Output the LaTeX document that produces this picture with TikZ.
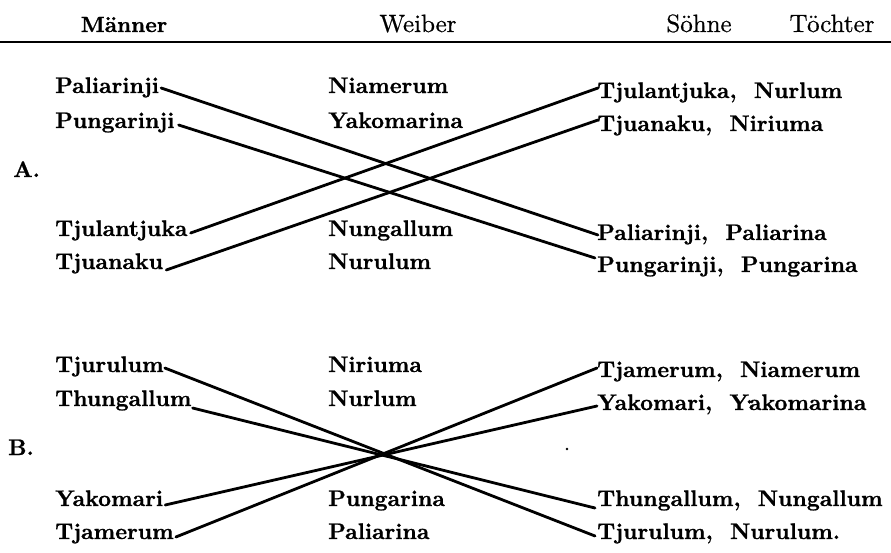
\documentclass[tikz,border=0pt]{standalone}
\usepackage{fontspec}
\newfontfamily\heavyfont{lmroman10-bold.otf}[FakeBold=0.9]
\newfontfamily\hdrfont{lmroman10-regular.otf}[FakeBold=0.6]
\begin{document}
\begin{tikzpicture}[x=1pt,y=-1pt,
  lbl/.style={font=\heavyfont\fontsize{22.5}{27}\selectfont, inner sep=0pt, anchor=base west},
  hdr/.style={font=\hdrfont\fontsize{25}{30}\selectfont, inner sep=0pt, anchor=base},
  sect/.style={font=\heavyfont\fontsize{22.5}{27}\selectfont, inner sep=0pt, anchor=base west},
  link/.style={line width=2.8pt, line cap=round, line join=round}]
\useasboundingbox (0,0) rectangle (891,553);
% header
\node[hdr, font=\heavyfont\fontsize{22}{26}\selectfont] (hM) at (124,32) {Männer};
\node[hdr] (hW) at (418,32) {Weiber};
\node[hdr] (hS) at (699,32) {Söhne};
\node[hdr] (hT) at (832,32) {Töchter};
\draw[line width=1.8pt] (0,42) -- (891,42);
% section A
\node[sect] (A) at (13,177) {A.};
\node[lbl] (a1) at (55,93) {Paliarinji};
\node[lbl] (a2) at (55,128) {Pungarinji};
\node[lbl] (a3) at (55,236) {Tjulantjuka};
\node[lbl] (a4) at (55,269) {Tjuanaku};
\node[lbl] (aw1) at (328,93) {Niamerum};
\node[lbl] (aw2) at (328,128) {Yakomarina};
\node[lbl] (aw3) at (328,236) {Nungallum};
\node[lbl] (aw4) at (328,269) {Nurulum};
\node[lbl] (ar1) at (597,98) {Tjulantjuka,\ \ Nurlum};
\node[lbl] (ar2) at (597,131) {Tjuanaku,\ \ Niriuma};
\node[lbl] (ar3) at (597,240) {Paliarinji,\ \ Paliarina};
\node[lbl] (ar4) at (597,272) {Pungarinji,\ \ Pungarina};
\draw[link] ([shift={(2,-5)}]a1.base east) -- ([shift={(1,-5)}]ar3.base west);
\draw[link] ([shift={(4,-3)}]a2.base east) -- ([shift={(-2,-14)}]ar4.base west);
\draw[link] ([shift={(3,-3)}]a3.base east) -- ([shift={(1,-10)}]ar1.base west);
\draw[link] ([shift={(3,1)}]a4.base east) -- ([shift={(1,-11)}]ar2.base west);
% section B
\node[sect] (B) at (8,455) {B.};
\node[lbl] (b1) at (55,372) {Tjurulum};
\node[lbl] (b2) at (55,406) {Thungallum};
\node[lbl] (b3) at (55,506) {Yakomari};
\node[lbl] (b4) at (55,539) {Tjamerum};
\node[lbl] (bw1) at (328,372) {Niriuma};
\node[lbl] (bw2) at (328,406) {Nurlum};
\node[lbl] (bw3) at (328,506) {Pungarina};
\node[lbl] (bw4) at (328,539) {Paliarina};
\node[lbl] (br1) at (597,377) {Tjamerum,\ \ Niamerum};
\node[lbl] (br2) at (597,410) {Yakomari,\ \ Y\makebox[0pt]{\raisebox{0.5pt}{\kern1pt·}}akomarina};
\node[lbl] (br3) at (597,506) {Thungallum,\ \ Nungallum};
\node[lbl] (br4) at (597,539) {Tjurulum,\ \ Nurulum.};
\draw[link] ([shift={(1,-4)}]b1.base east) -- ([shift={(-2,-3)}]br4.base west);
\draw[link] ([shift={(1,2)}]b2.base east) -- ([shift={(-2,2)}]br3.base west);
\draw[link] ([shift={(2,-1)}]b3.base east) -- ([shift={(0,-4)}]br2.base west);
\draw[link] ([shift={(2,-2)}]b4.base east) -- ([shift={(0,-9)}]br1.base west);
\fill (567,449) circle (1.3);
\end{tikzpicture}
\end{document}
